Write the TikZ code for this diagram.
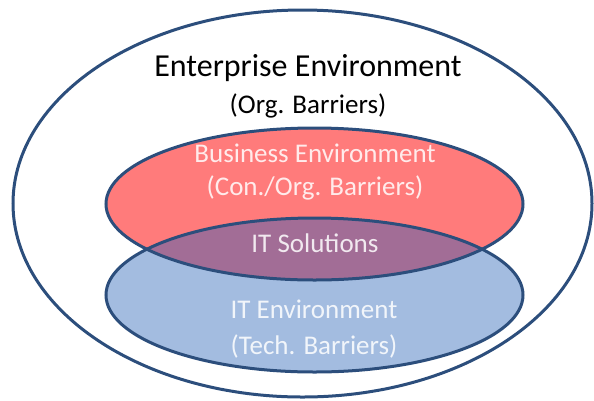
\documentclass[tikz,border=0pt]{standalone}
\usepackage{fontspec}
\setmainfont{Carlito}
\usetikzlibrary{positioning}

\definecolor{rimblue}{HTML}{2C4E7C}
\definecolor{bizred}{HTML}{FF7B7B}
\definecolor{itblue}{HTML}{A3BCE0}
\definecolor{mixpurple}{HTML}{A26D96}

\begin{document}
\begin{tikzpicture}[x=1pt, y=-1pt,
		rim/.style={draw=rimblue, line width=3pt},
		title/.style={align=center, text=black},
		inner/.style={align=center, text=white, text opacity=0.85},
		]
		\useasboundingbox (0,0) rectangle (594,400);
		
		% outer ring
		\draw[rim] (302.5,203.5) ellipse [x radius=289.5, y radius=193.5];
		
		% the two environments and their overlap
		\fill[bizred] (314.5,204) ellipse [x radius=208.5, y radius=76];
		\fill[itblue] (314.5,295) ellipse [x radius=208.5, y radius=77];
		\begin{scope}
			\clip (314.5,204) ellipse [x radius=208.5, y radius=76];
			\fill[mixpurple] (314.5,295) ellipse [x radius=208.5, y radius=77];
		\end{scope}
		\draw[rim] (314.5,204) ellipse [x radius=208.5, y radius=76];
		\draw[rim] (314.5,295) ellipse [x radius=208.5, y radius=77];
		
		\node[title, font=\fontsize{32}{36}\selectfont] (ent) at (308,68) {Enterprise Environment};
		\node[title, font=\fontsize{27}{31}\selectfont, below=5pt of ent] (entsub) {(Org. Barriers)};
		\node[inner, font=\fontsize{27}{33}\selectfont] (biz) at (315,172) {Business Environment\\(Con./Org. Barriers)};
		\node[inner, font=\fontsize{27}{31}\selectfont] (sol) at (315,243) {IT Solutions};
		\node[inner, font=\fontsize{27}{36}\selectfont] (itenv) at (314,329) {IT Environment\\(Tech. Barriers)};
	\end{tikzpicture}
\end{document}
